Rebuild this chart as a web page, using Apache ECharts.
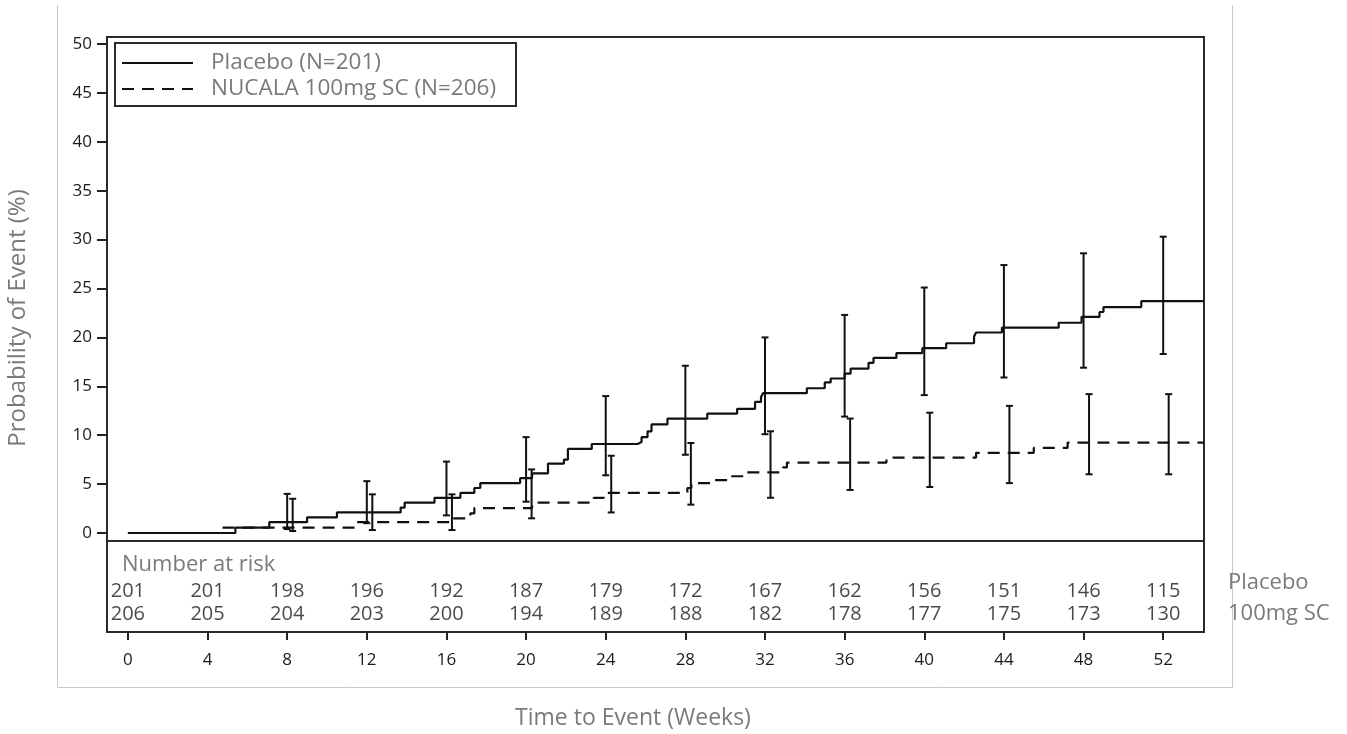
<!DOCTYPE html>
<html>
<head>
<meta charset="utf-8">
<script src="https://cdn.jsdelivr.net/npm/echarts@6/dist/echarts.min.js"></script>
<style>
html,body{margin:0;padding:0;background:#fff;}
#chart{width:1347px;height:734px;}
</style>
</head>
<body>
<div id="chart"></div>
<script>
// ---- data ----
var seriesNames = ['Placebo (N=201)', 'NUCALA 100mg SC (N=206)'];
var placeboKM = [[0,0],[5.4,0.55],[7.1,1.1],[9.0,1.6],[10.5,2.1],[13.7,2.6],[13.9,3.1],[15.4,3.6],[16.7,4.1],[17.4,4.6],[17.7,5.1],[19.7,5.6],[20.3,6.1],[21.1,7.1],[21.9,7.5],[22.1,8.6],[23.3,9.1],[25.6,9.3],[25.8,9.8],[26.1,10.4],[26.3,11.1],[27.1,11.7],[29.1,12.2],[30.6,12.7],[31.5,13.4],[31.8,13.9],[31.9,14.3],[34.1,14.8],[35.0,15.4],[35.3,15.8],[36.0,16.3],[36.3,16.8],[37.2,17.4],[37.45,17.9],[38.6,18.4],[39.9,18.9],[41.1,19.4],[42.5,20.1],[42.6,20.5],[43.9,21.0],[46.75,21.5],[47.9,22.1],[48.8,22.6],[49.0,23.1],[50.9,23.7],[54.05,23.7]];
var nucalaKM = [[0,0],[4.7,0.55],[11.5,1.1],[16.3,1.5],[17.2,2.0],[17.4,2.55],[20.3,3.1],[23.4,3.6],[23.9,4.1],[28.1,4.6],[28.3,5.1],[29.4,5.4],[30.3,5.8],[31.0,6.2],[32.9,6.7],[33.1,7.2],[38.1,7.7],[42.6,8.2],[45.5,8.7],[47.2,9.25],[54.05,9.25]];
var ciWeeks = [8,12,16,20,24,28,32,36,40,44,48,52];
var placeboLow  = [0.4,1.0,1.8,3.2,5.9,8.0,10.1,11.9,14.1,15.9,16.9,18.3];
var placeboHigh = [4.0,5.3,7.3,9.8,14.0,17.1,20.0,22.3,25.1,27.4,28.6,30.3];
var nucalaLow   = [0.2,0.3,0.3,1.5,2.1,2.9,3.6,4.4,4.7,5.1,6.0,6.0];
var nucalaHigh  = [3.5,3.95,3.95,6.5,7.9,9.2,10.4,11.7,12.3,13.0,14.2,14.2];
var riskWeeks = [0,4,8,12,16,20,24,28,32,36,40,44,48,52];
var placeboRisk = [201,201,198,196,192,187,179,172,167,162,156,151,146,115];
var nucalaRisk  = [206,205,204,203,200,194,189,188,182,178,177,175,173,130];
var yTicks = [0,5,10,15,20,25,30,35,40,45,50];
var xTicks = [0,4,8,12,16,20,24,28,32,36,40,44,48,52];
var riskTitle = 'Number at risk';
var riskRowLabels = ['Placebo', '100mg SC'];
var yTitle = 'Probability of Event (%)';
var xTitle = 'Time to Event (Weeks)';

// ---- chart ----
var FONT = '"Open Sans", "Noto Sans", sans-serif';
var GRAY = '#7a7a7a';
var chart = echarts.init(document.getElementById('chart'), null, {renderer: 'canvas'});

function errorBarItem(pxOffset) {
  return function (params, api) {
    var lo = api.coord([api.value(0), api.value(1)]);
    var hi = api.coord([api.value(0), api.value(2)]);
    var x = lo[0] + pxOffset;
    var style = {stroke: '#111', lineWidth: 2};
    var cap = 3.5;
    return {type: 'group', children: [
      {type: 'line', shape: {x1: x, y1: lo[1], x2: x, y2: hi[1]}, style: style},
      {type: 'line', shape: {x1: x - cap, y1: lo[1], x2: x + cap, y2: lo[1]}, style: style},
      {type: 'line', shape: {x1: x - cap, y1: hi[1], x2: x + cap, y2: hi[1]}, style: style}
    ]};
  };
}

var ROW_Y = [50, 73];

var option = {
  animation: false,
  backgroundColor: '#fff',
  textStyle: {fontFamily: FONT},
  grid: [
    {left: 107, top: 37, width: 1097, height: 504, show: true, borderColor: '#2a2a2a', borderWidth: 2, backgroundColor: 'transparent'},
    {left: 107, top: 541, width: 1097, height: 91, show: true, borderColor: '#2a2a2a', borderWidth: 2, backgroundColor: 'transparent'}
  ],
  xAxis: [
    {type: 'value', gridIndex: 0, min: -1.05, max: 54.05, axisLine: {show: false, onZero: false}, axisTick: {show: false}, axisLabel: {show: false}, splitLine: {show: false}},
    {type: 'value', gridIndex: 1, min: -1.05, max: 54.05, position: 'bottom', axisLine: {show: false, onZero: false},
      axisTick: {show: true, inside: false, length: 8, lineStyle: {color: '#222', width: 2}, customValues: xTicks},
      axisLabel: {show: true, margin: 20, fontSize: 17, color: '#1a1a1a', fontFamily: FONT, customValues: xTicks},
      splitLine: {show: false}}
  ],
  yAxis: [
    {type: 'value', gridIndex: 0, min: -0.82, max: 50.72, position: 'left', axisLine: {show: false, onZero: false},
      axisTick: {show: true, inside: false, length: 10, lineStyle: {color: '#222', width: 2}, customValues: yTicks},
      axisLabel: {show: true, margin: 15, fontSize: 17, color: '#1a1a1a', fontFamily: FONT, customValues: yTicks},
      splitLine: {show: false}},
    {type: 'value', gridIndex: 1, min: 0, max: 91, inverse: true, show: false, axisLine: {onZero: false}}
  ],
  legend: {
    show: true, orient: 'vertical', left: 121, top: 50,
    itemWidth: 71, itemHeight: 16, itemGap: 0,
    padding: 0, borderWidth: 0,
    selectedMode: false,
    itemStyle: {opacity: 0},
    textStyle: {fontSize: 22.5, color: GRAY, fontFamily: FONT, padding: [0, 0, 0, 13], lineHeight: 26},
    data: seriesNames
  },
  series: [
    {name: seriesNames[0], type: 'line', step: 'end', xAxisIndex: 0, yAxisIndex: 0, showSymbol: false, symbol: 'none',
      lineStyle: {color: '#111', width: 2.2}, itemStyle: {color: '#111'}, data: placeboKM, z: 3},
    {name: seriesNames[1], type: 'line', step: 'end', xAxisIndex: 0, yAxisIndex: 0, showSymbol: false, symbol: 'none',
      lineStyle: {color: '#111', width: 2.2, type: [12, 8]}, itemStyle: {color: '#111'}, data: nucalaKM, z: 3},
    {type: 'custom', xAxisIndex: 0, yAxisIndex: 0, renderItem: errorBarItem(0), z: 4,
      data: ciWeeks.map(function (w, i) { return [w, placeboLow[i], placeboHigh[i]]; })},
    {type: 'custom', xAxisIndex: 0, yAxisIndex: 0, renderItem: errorBarItem(5.5), z: 4,
      data: ciWeeks.map(function (w, i) { return [w, nucalaLow[i], nucalaHigh[i]]; })},
    {type: 'scatter', xAxisIndex: 1, yAxisIndex: 1, symbolSize: 0, silent: true,
      label: {show: true, position: 'inside', fontSize: 20, color: '#1a1a1a', fontFamily: FONT, formatter: function (p) { return p.value[2]; }},
      data: riskWeeks.map(function (w, i) { return [w, ROW_Y[0], placeboRisk[i]]; })},
    {type: 'scatter', xAxisIndex: 1, yAxisIndex: 1, symbolSize: 0, silent: true,
      label: {show: true, position: 'inside', fontSize: 20, color: '#1a1a1a', fontFamily: FONT, formatter: function (p) { return p.value[2]; }},
      data: riskWeeks.map(function (w, i) { return [w, ROW_Y[1], nucalaRisk[i]]; })}
  ],
  graphic: [
    {type: 'polyline', shape: {points: [[57.5, 5], [57.5, 687.5], [1232.5, 687.5], [1232.5, 5]]}, style: {stroke: '#c9c9c9', lineWidth: 1, fill: null}, z: -1},
    {type: 'rect', shape: {x: 115, y: 43, width: 401, height: 63}, style: {stroke: '#2a2a2a', lineWidth: 2, fill: null}, z: 10},
    {type: 'text', x: 18, y: 318, rotation: Math.PI / 2, style: {text: yTitle, font: '24px ' + FONT, fill: GRAY, align: 'center', verticalAlign: 'middle'}},
    {type: 'text', x: 122, y: 565, style: {text: riskTitle, font: '22px ' + FONT, fill: GRAY, verticalAlign: 'middle'}},
    {type: 'text', x: 1228, y: 583, style: {text: riskRowLabels[0], font: '22px ' + FONT, fill: GRAY, verticalAlign: 'middle'}},
    {type: 'text', x: 1228, y: 614, style: {text: riskRowLabels[1], font: '22px ' + FONT, fill: GRAY, verticalAlign: 'middle'}},
    {type: 'text', x: 633, y: 718, style: {text: xTitle, font: '23px ' + FONT, fill: GRAY, align: 'center', verticalAlign: 'middle'}}
  ]
};
chart.setOption(option);
</script>
</body>
</html>
